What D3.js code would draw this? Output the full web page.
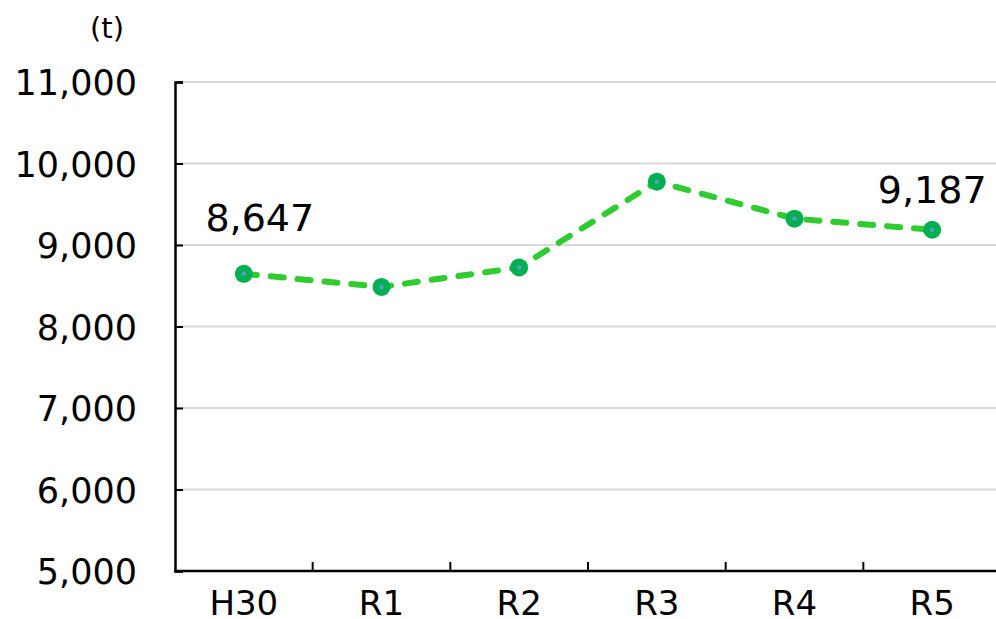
<!DOCTYPE html>
<html>
<head>
<meta charset="utf-8">
<script src="https://cdn.jsdelivr.net/npm/d3@7/dist/d3.min.js"></script>
<style>
  body { margin: 0; background: #fff; }
  text { font-family: "DejaVu Sans", "Noto Sans CJK JP", sans-serif; fill: #000; }
</style>
</head>
<body>
<div id="chart"></div>
<script>
// data
const years = ['H30', 'R1', 'R2', 'R3', 'R4', 'R5'];
const tonnes = [8647, 8485, 8725, 9777, 9323, 9187];
const yTicks = [5000, 6000, 7000, 8000, 9000, 10000, 11000];
const labelled = ['H30', 'R5'];

const width = 996, height = 619;
const margin = { top: 82, right: -5, bottom: 48, left: 175 };

const svg = d3.select('#chart').append('svg')
    .attr('width', width)
    .attr('height', height);

const x = d3.scaleBand()
    .domain(years)
    .range([margin.left, width - margin.right]);

const y = d3.scaleLinear()
    .domain([5000, 11000])
    .range([height - margin.bottom, margin.top]);

const fmt = d3.format(',');

// gridlines
svg.append('g')
  .selectAll('line')
  .data(yTicks.slice(1))
  .enter().append('line')
    .attr('x1', margin.left)
    .attr('x2', width)
    .attr('y1', d => y(d))
    .attr('y2', d => y(d))
    .attr('stroke', '#d9d9d9')
    .attr('stroke-width', 2);

// y axis, ticks pointing inward
const yAxis = svg.append('g')
    .attr('transform', `translate(${margin.left},0)`)
    .call(d3.axisRight(y).tickValues(yTicks).tickFormat(fmt).tickSize(8).tickPadding(0));
yAxis.select('.domain').attr('stroke', '#000').attr('stroke-width', 2.5);
yAxis.selectAll('.tick line').attr('stroke', '#000').attr('stroke-width', 2);
yAxis.selectAll('.tick text')
    .attr('x', -38)
    .attr('dy', '0.36em')
    .style('text-anchor', 'end')
    .style('font-size', '35px');

// x axis, ticks at band edges pointing up
const xAxis = svg.append('g')
    .attr('transform', `translate(0,${y(5000)})`);
xAxis.append('line')
    .attr('x1', margin.left - 1)
    .attr('x2', width)
    .attr('stroke', '#000')
    .attr('stroke-width', 2.5);
xAxis.selectAll('.edge')
  .data(years.slice(1))
  .enter().append('line')
    .attr('class', 'edge')
    .attr('x1', d => x(d))
    .attr('x2', d => x(d))
    .attr('y1', 0)
    .attr('y2', -9)
    .attr('stroke', '#000')
    .attr('stroke-width', 2);
xAxis.selectAll('text')
  .data(years)
  .enter().append('text')
    .attr('x', d => x(d) + x.bandwidth() / 2)
    .attr('y', 44)
    .style('text-anchor', 'middle')
    .style('font-size', '34px')
    .text(d => d);

// unit
svg.append('text')
    .attr('x', 107)
    .attr('y', 38)
    .style('text-anchor', 'middle')
    .style('font-size', '29px')
    .text('(t)');

const pts = years.map((d, i) => ({ year: d, value: tonnes[i] }));
const cx = d => x(d.year) + x.bandwidth() / 2;

// dashed line
svg.append('path')
    .datum(pts)
    .attr('fill', 'none')
    .attr('stroke', '#2ecc2e')
    .attr('stroke-width', 6)
    .attr('stroke-linecap', 'round')
    .attr('stroke-dasharray', '13,14')
    .attr('d', d3.line().x(cx).y(d => y(d.value)));

// markers
const node = svg.append('g')
  .selectAll('g')
  .data(pts)
  .enter().append('g')
    .attr('transform', d => `translate(${cx(d)},${y(d.value)})`);
node.append('circle').attr('r', 9).attr('fill', '#00b050');
node.append('circle').attr('r', 2.2).attr('fill', '#5b9bd5');

// value labels on first and last points
const offsets = { H30: [16, -43], R5: [0, -27] };
svg.append('g')
  .selectAll('text')
  .data(pts.filter(d => labelled.includes(d.year)))
  .enter().append('text')
    .attr('x', d => cx(d) + offsets[d.year][0])
    .attr('y', d => y(d.value) + offsets[d.year][1])
    .style('text-anchor', 'middle')
    .style('font-size', '38px')
    .text(d => fmt(d.value));
</script>
</body>
</html>
